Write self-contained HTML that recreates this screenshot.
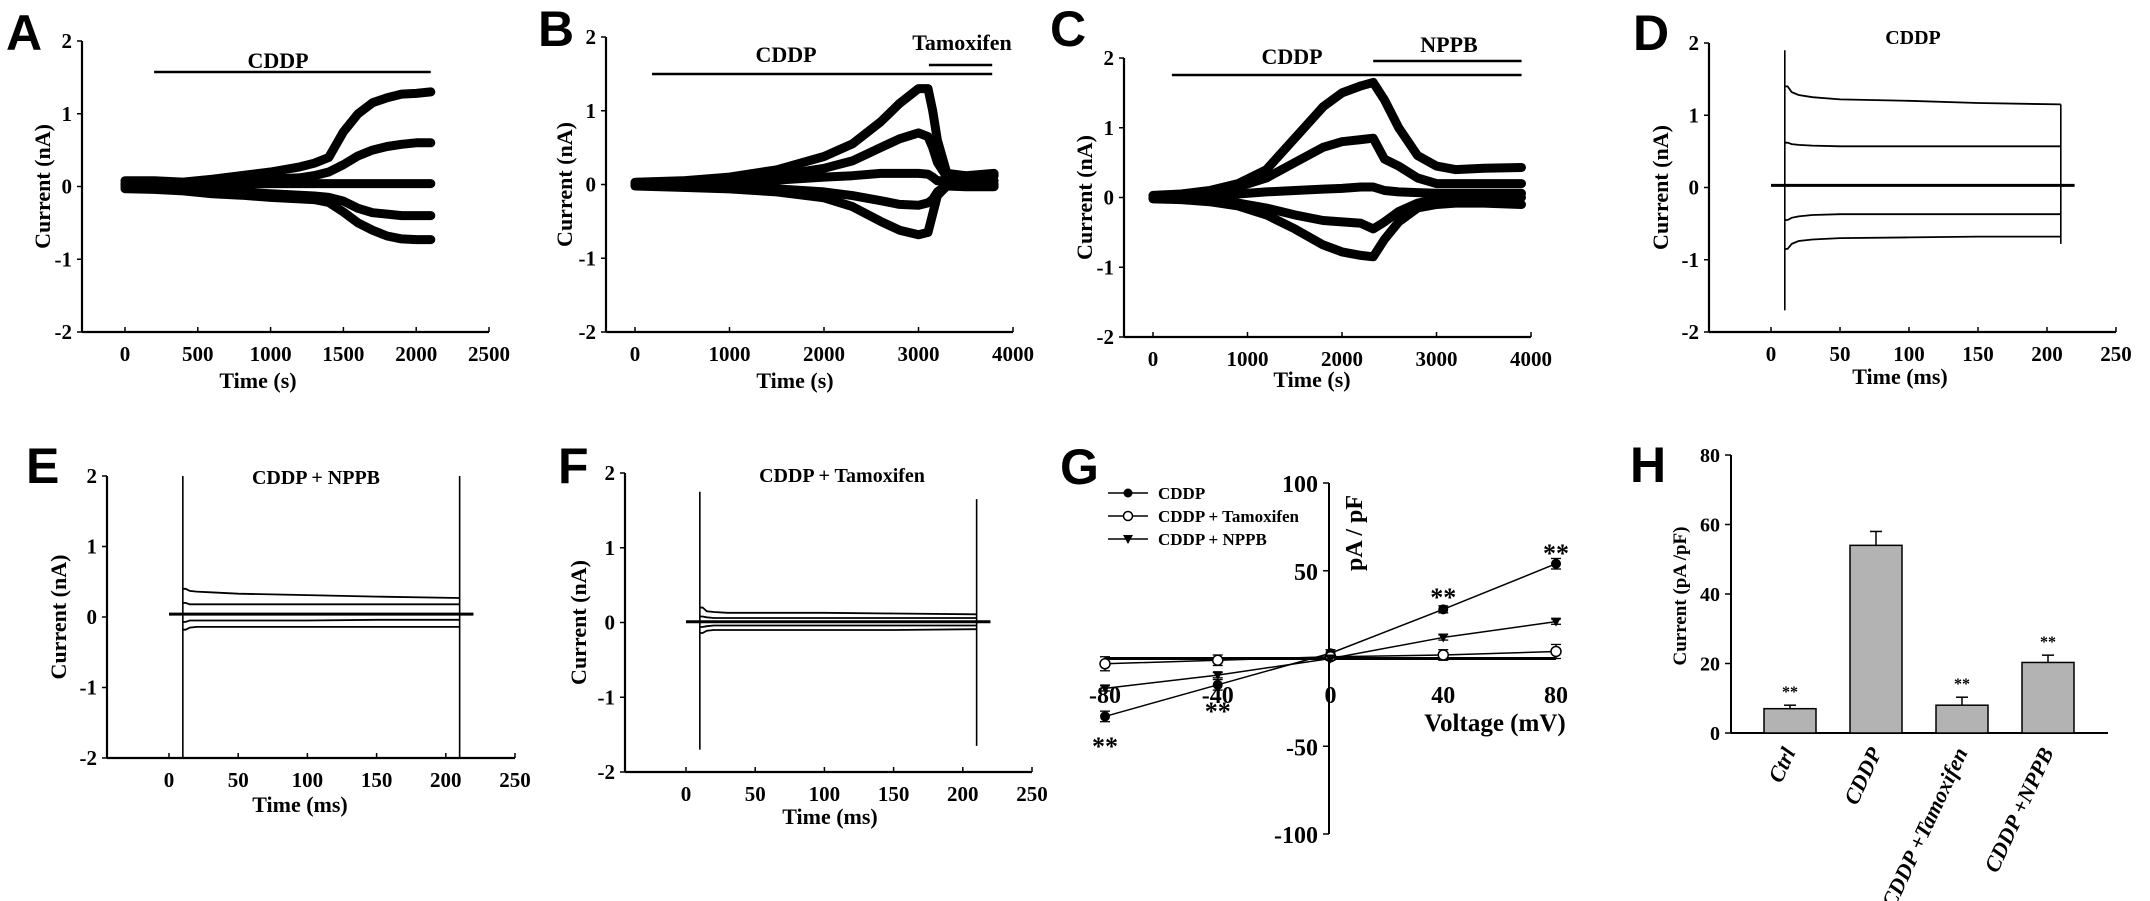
<!DOCTYPE html>
<html><head><meta charset="utf-8">
<style>
html,body{margin:0;padding:0;background:#fff;}
svg{display:block;font-family:"Liberation Serif",serif;font-weight:bold;}
.lt{font-family:"Liberation Sans",sans-serif;font-weight:bold;font-size:50px;}
</style></head>
<body>
<svg id="fig" width="2150" height="901" viewBox="0 0 2150 901" xmlns="http://www.w3.org/2000/svg">
<rect width="2150" height="901" fill="#fff"/>
<g id="root"></g>
</svg>
<script>
// ---------- Data ----------
// Panel A
const aTime=[0,200,400,600,800,1000,1200,1300,1400,1500,1600,1700,1800,1900,2000,2100];
const aTrace1=[0.08,0.08,0.06,0.1,0.15,0.2,0.27,0.32,0.4,0.75,1.0,1.15,1.22,1.27,1.28,1.3];
const aTrace2=[0.05,0.05,0.04,0.06,0.08,0.1,0.12,0.15,0.2,0.3,0.42,0.5,0.55,0.58,0.6,0.6];
const aTrace3=[0.03,0.02,0.01,0.03,0.03,0.04,0.04,0.04,0.04,0.04,0.04,0.04,0.04,0.04,0.04,0.04];
const aTrace4=[0,0,-0.02,-0.05,-0.08,-0.1,-0.12,-0.13,-0.15,-0.2,-0.3,-0.36,-0.38,-0.4,-0.4,-0.4];
const aTrace5=[-0.03,-0.04,-0.06,-0.1,-0.12,-0.15,-0.17,-0.18,-0.22,-0.35,-0.5,-0.6,-0.68,-0.72,-0.73,-0.73];
const aTicks=[0,500,1000,1500,2000,2500];
// Panel B
const bTime=[0,500,1000,1500,2000,2300,2600,2800,3000,3100,3150,3200,3300,3500,3800];
const bTrace1=[0.03,0.05,0.1,0.2,0.38,0.55,0.85,1.1,1.3,1.3,1.0,0.6,0.15,0.12,0.15];
const bTrace2=[0.02,0.04,0.07,0.12,0.22,0.32,0.5,0.62,0.7,0.65,0.5,0.3,0.1,0.1,0.12];
const bTrace3=[0.01,0.02,0.04,0.06,0.1,0.12,0.15,0.15,0.15,0.14,0.1,0.05,0.05,0.05,0.05];
const bTrace4=[-0.01,-0.02,-0.04,-0.06,-0.1,-0.15,-0.22,-0.27,-0.28,-0.25,-0.2,-0.1,0,0,0];
const bTrace5=[-0.02,-0.04,-0.06,-0.1,-0.18,-0.3,-0.5,-0.62,-0.68,-0.65,-0.4,-0.15,-0.02,-0.03,-0.03];
const bTicks=[0,1000,2000,3000,4000];
// Panel C
const cTime=[0,300,600,900,1200,1500,1800,2000,2200,2330,2450,2600,2800,3000,3200,3500,3900];
const cTrace1=[0.03,0.05,0.1,0.2,0.4,0.85,1.3,1.5,1.6,1.65,1.4,1.0,0.6,0.45,0.4,0.42,0.43];
const cTrace2=[0.02,0.04,0.08,0.15,0.28,0.5,0.72,0.8,0.83,0.85,0.55,0.45,0.28,0.2,0.2,0.2,0.2];
const cTrace3=[0.01,0.02,0.03,0.05,0.08,0.1,0.12,0.13,0.15,0.15,0.1,0.08,0.07,0.06,0.06,0.06,0.06];
const cTrace4=[-0.01,-0.02,-0.04,-0.08,-0.15,-0.25,-0.33,-0.35,-0.37,-0.45,-0.35,-0.2,-0.08,-0.02,0,0,0];
const cTrace5=[-0.02,-0.03,-0.06,-0.12,-0.25,-0.45,-0.68,-0.78,-0.83,-0.85,-0.6,-0.35,-0.15,-0.1,-0.08,-0.08,-0.1];
const cTicks=[0,1000,2000,3000,4000];
// Ephys traces (D/E/F)
const stepTime=[12,15,20,30,50,100,150,210];
const dLevels=[[1.4,1.32,1.28,1.25,1.22,1.2,1.17,1.15],[0.62,0.6,0.59,0.58,0.57,0.57,0.57,0.57],[0.03,0.03,0.03,0.03,0.03,0.03,0.03,0.03],[-0.45,-0.42,-0.4,-0.38,-0.37,-0.37,-0.37,-0.37],[-0.85,-0.78,-0.74,-0.72,-0.7,-0.69,-0.68,-0.68]];
const dSpikeOn=[1.9,-1.7]; const dSpikeOff=[1.15,-0.78]; const dBase=0.03;
const eLevels=[[0.4,0.37,0.36,0.35,0.33,0.31,0.29,0.27],[0.2,0.18,0.18,0.18,0.18,0.18,0.18,0.18],[0.04,0.04,0.04,0.04,0.04,0.04,0.04,0.04],[-0.07,-0.05,-0.05,-0.05,-0.05,-0.05,-0.04,-0.04],[-0.18,-0.15,-0.14,-0.14,-0.14,-0.14,-0.14,-0.14]];
const eSpikeOn=[2,-2]; const eSpikeOff=[2,-2]; const eBase=0.04;
const fLevels=[[0.2,0.15,0.14,0.13,0.13,0.13,0.12,0.11],[0.08,0.07,0.06,0.06,0.06,0.06,0.06,0.06],[0.01,0.01,0.01,0.01,0.01,0.01,0.01,0.01],[-0.06,-0.05,-0.04,-0.04,-0.04,-0.04,-0.04,-0.04],[-0.14,-0.11,-0.1,-0.1,-0.1,-0.1,-0.1,-0.09]];
const fSpikeOn=[1.75,-1.7]; const fSpikeOff=[1.65,-1.65]; const fBase=0.01;
const msTicks=[0,50,100,150,200,250];
const nATicks=[2,1,0,-1,-2];
// Panel G
const gVoltage=[-80,-40,0,40,80];
const gCDDP=[-33,-15,3,28,54];
const gCDDPErr=[3,3,2,2,3];
const gTam=[-3,-1,1,2,4];
const gTamErr=[4,3,2,3,4];
const gNPPB=[-17,-9.5,0,12,21];
const gNPPBErr=[1.5,1.5,1,1.5,1.5];
const gYTicks=[100,50,-50,-100];
const gXTicks=[-80,-40,0,40,80];
// Panel H
const hCats=["Ctrl","CDDP","CDDP +Tamoxifen","CDDP +NPPB"];
const hVals=[7,54,8,20.3];
const hErr=[1,4,2.3,2.1];
const hStars=[true,false,true,true];
const hYTicks=[0,20,40,60,80];

// ---------- Helpers ----------
const NS="http://www.w3.org/2000/svg";
const root=document.getElementById('root');
function el(tag,attrs,parent,text){const e=document.createElementNS(NS,tag);for(const k in attrs)e.setAttribute(k,attrs[k]);if(text!==undefined)e.textContent=text;(parent||root).appendChild(e);return e;}
function lin(d0,r0,d1,r1){return v=>r0+(v-d0)*(r1-r0)/(d1-d0);}
function grp(name){const g=el('g',{});return g;}

function axes(g,c){
  el('line',{x1:c.ax,y1:c.yTop,x2:c.ax,y2:c.yBot,stroke:'#000','stroke-width':2.2},g);
  el('line',{x1:c.ax,y1:c.yBot,x2:c.right,y2:c.yBot,stroke:'#000','stroke-width':2.2},g);
  const ya=grp('y-axis-labels');g.appendChild(ya);
  c.yt.forEach(v=>{const y=c.y(v);
    el('line',{x1:c.ax-5,y1:y,x2:c.ax,y2:y,stroke:'#000','stroke-width':1.5},ya);
    const t=el('text',{x:c.ax-10,y:y+7,'text-anchor':'end','font-size':21},ya,String(v));
    });
  const xa=grp('x-axis-labels');g.appendChild(xa);
  c.xt.forEach(v=>{const x=c.x(v);
    el('line',{x1:x,y1:c.yBot-5,x2:x,y2:c.yBot,stroke:'#000','stroke-width':1.5},xa);
    const t=el('text',{x:x,y:c.yBot+29,'text-anchor':'middle','font-size':21},xa,String(v));
    });
  const xt=el('text',{x:c.xTitleX,y:c.yBot+c.xTitleDy,'text-anchor':'middle','font-size':22},g,c.xTitle);
  
  const ym=(c.yTop+c.yBot)/2;
  const yt=el('text',{x:c.yTitleX,y:ym,'text-anchor':'middle','font-size':22,transform:`rotate(-90 ${c.yTitleX} ${ym})`},g,'Current (nA)');
  
}
function letter(x,y,s){const t=el('text',{x:x,y:y,class:'lt'},root,s);}
function label(x,y,s,fs,name,g){const t=el('text',{x:x,y:y,'text-anchor':'middle','font-size':fs||22},g||root,s);return t;}
function bar(x1,x2,y,name,g){const l=el('line',{x1:x1,y1:y,x2:x2,y2:y,stroke:'#000','stroke-width':2.5},g||root);}

function timePanel(name,c,times,traces){
  const g=grp(name);root.appendChild(g);
  axes(g,c);
  traces.forEach((tr,i)=>{
    const d=tr.map((v,j)=>(j?'L':'M')+c.x(times[j]).toFixed(1)+' '+c.y(v).toFixed(1)).join(' ');
    const p=el('path',{d:d,fill:'none',stroke:'#000','stroke-width':9,'stroke-linecap':'round','stroke-linejoin':'round'},g);
    
  });
  return g;
}
function ephysPanel(name,c,levels,on,off,base){
  const g=grp(name);root.appendChild(g);
  axes(g,c);
  const bl=el('line',{x1:c.x(0),y1:c.y(base),x2:c.x(220),y2:c.y(base),stroke:'#000','stroke-width':3},g);
  
  const s1=el('line',{x1:c.x(10),y1:c.y(on[0]),x2:c.x(10),y2:c.y(on[1]),stroke:'#000','stroke-width':1.6},g);
  
  const s2=el('line',{x1:c.x(210),y1:c.y(off[0]),x2:c.x(210),y2:c.y(off[1]),stroke:'#000','stroke-width':1.6},g);
  
  levels.forEach((lv,i)=>{
    const d='M'+c.x(10)+' '+c.y(lv[0])+' '+lv.map((v,j)=>'L'+c.x(stepTime[j]).toFixed(1)+' '+c.y(v).toFixed(1)).join(' ');
    const p=el('path',{d:d,fill:'none',stroke:'#000','stroke-width':1.8},g);
    
  });
  return g;
}

// ---------- Panel A ----------
const cA={ax:82,right:489,yTop:41,yBot:332,y:lin(2,41,-2,332),x:lin(0,125,2500,489),yt:nATicks,xt:aTicks,xTitle:'Time (s)',xTitleX:258,xTitleDy:56,yTitleX:50};
const gA=timePanel('panel-a',cA,aTime,[aTrace1,aTrace2,aTrace3,aTrace4,aTrace5]);
letter(6,50,'A');
label(278,68,'CDDP',22,'treatment-label',gA);bar(cA.x(200),cA.x(2100),72,'treatment-bar',gA);

// ---------- Panel B ----------
const cB={ax:606,right:1013,yTop:37,yBot:332,y:lin(2,37,-2,332),x:lin(0,635,4000,1013),yt:nATicks,xt:bTicks,xTitle:'Time (s)',xTitleX:795,xTitleDy:56,yTitleX:572};
const gB=timePanel('panel-b',cB,bTime,[bTrace1,bTrace2,bTrace3,bTrace4,bTrace5]);
letter(538,46,'B');
label(786,62,'CDDP',22,'treatment-label',gB);bar(cB.x(180),cB.x(3780),74,'treatment-bar',gB);
label(962,50,'Tamoxifen',22,'inhibitor-label',gB);bar(cB.x(3110),cB.x(3780),65,'inhibitor-bar',gB);

// ---------- Panel C ----------
const cC={ax:1124,right:1531,yTop:58,yBot:337,y:lin(2,58,-2,337),x:lin(0,1153,4000,1531),yt:nATicks,xt:cTicks,xTitle:'Time (s)',xTitleX:1312,xTitleDy:50,yTitleX:1092};
const gC=timePanel('panel-c',cC,cTime,[cTrace1,cTrace2,cTrace3,cTrace4,cTrace5]);
letter(1050,46,'C');
label(1292,64,'CDDP',22,'treatment-label',gC);bar(cC.x(200),cC.x(3900),75,'treatment-bar',gC);
label(1449,52,'NPPB',22,'inhibitor-label',gC);bar(cC.x(2330),cC.x(3900),61,'inhibitor-bar',gC);

// ---------- Panel D ----------
const cD={ax:1709,right:2116,yTop:43,yBot:332,y:lin(2,43,-2,332),x:lin(0,1771,250,2116),yt:nATicks,xt:msTicks,xTitle:'Time (ms)',xTitleX:1900,xTitleDy:52,yTitleX:1668};
const gD=ephysPanel('panel-d',cD,dLevels,dSpikeOn,dSpikeOff,dBase);
letter(1633,50,'D');
label(1913,44,'CDDP',20,'panel-title',gD);

// ---------- Panel E ----------
const cE={ax:107,right:515,yTop:476,yBot:758,y:lin(2,476,-2,758),x:lin(0,169,250,515),yt:nATicks,xt:msTicks,xTitle:'Time (ms)',xTitleX:300,xTitleDy:54,yTitleX:66};
const gE=ephysPanel('panel-e',cE,eLevels,eSpikeOn,eSpikeOff,eBase);
letter(26,483,'E');
label(316,484,'CDDP + NPPB',20,'panel-title',gE);

// ---------- Panel F ----------
const cF={ax:625,right:1032,yTop:473,yBot:772,y:lin(2,473,-2,772),x:lin(0,686,250,1032),yt:nATicks,xt:msTicks,xTitle:'Time (ms)',xTitleX:830,xTitleDy:52,yTitleX:586};
const gF=ephysPanel('panel-f',cF,fLevels,fSpikeOn,fSpikeOff,fBase);
letter(558,483,'F');
label(842,482,'CDDP + Tamoxifen',20,'panel-title',gF);

// ---------- Panel G ----------
(function(){
  const g=grp('panel-g');root.appendChild(g);
  const x=lin(-80,1105,80,1556), y=lin(100,483,-100,834);
  letter(1060,484,'G');
  el('line',{x1:1329,y1:483,x2:1329,y2:834,stroke:'#000','stroke-width':2},g);
  el('line',{x1:x(-80),y1:y(0),x2:x(80),y2:y(0),stroke:'#000','stroke-width':3},g);
  gYTicks.forEach(v=>{el('line',{x1:1323,y1:y(v),x2:1329,y2:y(v),stroke:'#000','stroke-width':1.5},g);
    const t=el('text',{x:1318,y:y(v)+9,'text-anchor':'end','font-size':24},g,String(v));});
  gXTicks.forEach(v=>{const t=el('text',{x:x(v),y:703,'text-anchor':'middle','font-size':24},g,String(v));});
  label(1495,731,'Voltage (mV)',25,'x-axis-title',g);
  const yt=el('text',{x:1362,y:533,'text-anchor':'middle','font-size':24,transform:'rotate(-90 1362 533)'},g,'pA / pF');
  
  const series=[[gCDDP,gCDDPErr,'cddp','filled'],[gTam,gTamErr,'tamoxifen','open'],[gNPPB,gNPPBErr,'nppb','tri']];
  series.forEach(s=>{
    const sg=grp('series-'+s[2]);g.appendChild(sg);
    el('path',{d:s[0].map((v,i)=>(i?'L':'M')+x(gVoltage[i])+' '+y(v)).join(' '),fill:'none',stroke:'#000','stroke-width':1.5},sg);
    s[0].forEach((v,i)=>{const px=x(gVoltage[i]),py=y(v),e=s[1][i];
      el('line',{x1:px,y1:y(v+e),x2:px,y2:y(v-e),stroke:'#000','stroke-width':1.3},sg);
      el('line',{x1:px-5,y1:y(v+e),x2:px+5,y2:y(v+e),stroke:'#000','stroke-width':1.3},sg);
      el('line',{x1:px-5,y1:y(v-e),x2:px+5,y2:y(v-e),stroke:'#000','stroke-width':1.3},sg);
      let m;
      if(s[3]==='filled')m=el('circle',{cx:px,cy:py,r:5,fill:'#000'},sg);
      else if(s[3]==='open')m=el('circle',{cx:px,cy:py,r:5,fill:'#fff',stroke:'#000','stroke-width':1.5},sg);
      else m=el('path',{d:`M${px-5} ${py-4} L${px+5} ${py-4} L${px} ${py+5} Z`,fill:'#000'},sg);
      
    });
  });
  const stars=[[80,548],[40,592],[-80,741],[-40,706]];
  stars.forEach(s=>label(x(s[0]),s[1]+14,'**',26,'significance-marker',g));
  // legend
  const lg=grp('legend');g.appendChild(lg);
  const items=[['CDDP','filled',493],['CDDP + Tamoxifen','open',516],['CDDP + NPPB','tri',539]];
  items.forEach(it=>{const e=grp('legend-entry');lg.appendChild(e);
    el('line',{x1:1108,y1:it[2],x2:1148,y2:it[2],stroke:'#000','stroke-width':1.5},e);
    if(it[1]==='filled')el('circle',{cx:1128,cy:it[2],r:4.5,fill:'#000'},e);
    else if(it[1]==='open')el('circle',{cx:1128,cy:it[2],r:4.5,fill:'#fff',stroke:'#000','stroke-width':1.5},e);
    else el('path',{d:`M1123 ${it[2]-4} L1133 ${it[2]-4} L1128 ${it[2]+5} Z`,fill:'#000'},e);
    el('text',{x:1158,y:it[2]+6,'font-size':17},e,it[0]);});
})();

// ---------- Panel H ----------
(function(){
  const g=grp('panel-h');root.appendChild(g);
  letter(1630,482,'H');
  const y=lin(0,733,80,455);
  const x0=1790, step=86, bw=52;
  el('line',{x1:1731,y1:455,x2:1731,y2:733,stroke:'#000','stroke-width':2},g);
  el('line',{x1:1731,y1:733,x2:2108,y2:733,stroke:'#000','stroke-width':2},g);
  hYTicks.forEach(v=>{el('line',{x1:1725,y1:y(v),x2:1731,y2:y(v),stroke:'#000','stroke-width':1.5},g);
    const t=el('text',{x:1720,y:y(v)+7,'text-anchor':'end','font-size':20},g,String(v));});
  const yt=el('text',{x:1686,y:596,'text-anchor':'middle','font-size':19,transform:'rotate(-90 1686 596)'},g,'Current (pA /pF)');
  
  hVals.forEach((v,i)=>{const cx=x0+i*step;
    const b=el('rect',{x:cx-bw/2,y:y(v),width:bw,height:y(0)-y(v),fill:'#b3b3b3',stroke:'#000','stroke-width':1.5},g);
    
    el('line',{x1:cx,y1:y(v),x2:cx,y2:y(v+hErr[i]),stroke:'#000','stroke-width':1.5},g);
    el('line',{x1:cx-6,y1:y(v+hErr[i]),x2:cx+6,y2:y(v+hErr[i]),stroke:'#000','stroke-width':1.5},g);
    if(hStars[i])label(cx,y(v+hErr[i])-8,'**',16,'significance-marker',g);
    const t=el('text',{x:cx+6,y:752,'text-anchor':'end','font-size':22,'font-style':'italic',transform:`rotate(-65 ${cx+6} 752)`},g,hCats[i]);
    
  });
})();
</script>
</body></html>
